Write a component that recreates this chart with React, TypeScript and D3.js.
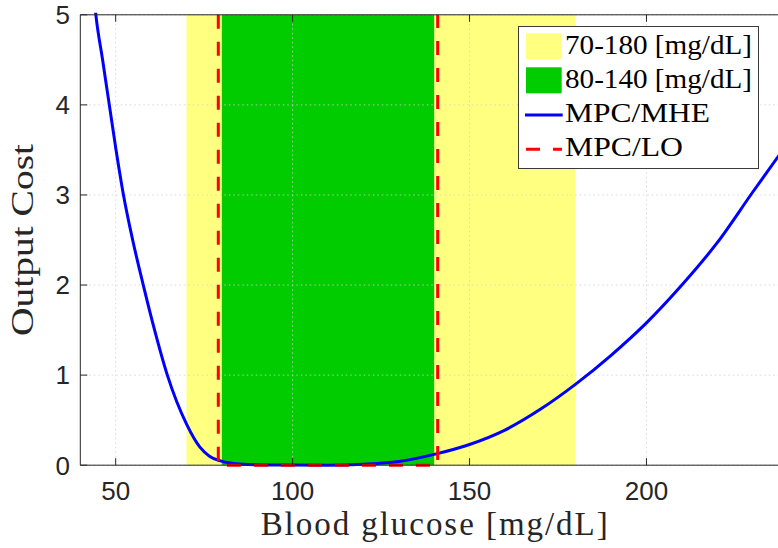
import React, { useEffect, useRef } from "react";
import * as d3 from "d3";

const xTicks = [50, 100, 150, 200];
const yTicks = [0, 1, 2, 3, 4, 5];

const wideBand = [70, 180];
const narrowBand = [80, 140];

const mheGlucose = [43, 44.4, 46.3, 48.2, 50.1, 52.2, 54.8, 57.8, 61.0, 64.6, 70.1, 73.8, 76.5, 79.4, 85, 95, 110, 120, 130, 140, 150, 160, 170, 180, 190, 200, 210, 220, 230, 240];
const mheCost = [5.6, 5.0, 4.5, 4.0, 3.5, 3.0, 2.5, 2.0, 1.5, 1.0, 0.45, 0.2, 0.1, 0.05, 0.013, 0.002, 0.0, 0.01, 0.04, 0.12, 0.23, 0.39, 0.62, 0.9, 1.22, 1.58, 2.0, 2.47, 3.03, 3.58];

const loGlucose = [79, 79, 141, 141];
const loCost = [5, 0, 0, 5];

const legendLabels = ["70-180 [mg/dL]", "80-140 [mg/dL]", "MPC/MHE", "MPC/LO"];

const W = 778;
const H = 548;
const M = { left: 80.3, top: 14.8, right: 788, bottom: 465.2 };

export default function App() {
  const ref = useRef<SVGSVGElement>(null);

  useEffect(() => {
    document.body.style.margin = "0";
    const svg = d3.select(ref.current);
    svg.selectAll("*").remove();

    const x = d3.scaleLinear().domain([40, 240]).range([M.left, M.right]);
    const y = d3.scaleLinear().domain([0, 5]).range([M.bottom, M.top]);

    const defs = svg.append("defs");
    defs.append("clipPath").attr("id", "plotclip").append("rect")
      .attr("x", M.left).attr("y", M.top - 2)
      .attr("width", M.right - M.left).attr("height", M.bottom - M.top + 4);

    const plot = svg.append("g").attr("clip-path", "url(#plotclip)");

    plot.append("rect")
      .attr("x", x(wideBand[0])).attr("y", y(5))
      .attr("width", x(wideBand[1]) - x(wideBand[0])).attr("height", y(0) - y(5))
      .attr("fill", "rgb(255,255,128)");
    plot.append("rect")
      .attr("x", x(narrowBand[0])).attr("y", y(5))
      .attr("width", x(narrowBand[1]) - x(narrowBand[0])).attr("height", y(0) - y(5))
      .attr("fill", "rgb(0,204,0)");

    // grid
    const grid = plot.append("g").attr("stroke", "#d0d0d0").attr("stroke-width", 1)
      .attr("stroke-dasharray", "1.5 3").attr("opacity", 0.8);
    xTicks.forEach((t) => {
      grid.append("line").attr("x1", x(t)).attr("x2", x(t)).attr("y1", M.top).attr("y2", M.bottom);
    });
    yTicks.forEach((t) => {
      grid.append("line").attr("x1", M.left).attr("x2", M.right).attr("y1", y(t)).attr("y2", y(t));
    });

    const mhe = mheGlucose.map((g, i) => [g, mheCost[i]] as [number, number]);
    const line = d3.line<[number, number]>().x((d) => x(d[0])).y((d) => y(d[1])).curve(d3.curveMonotoneX);
    plot.append("path").attr("d", line(mhe)).attr("fill", "none")
      .attr("stroke", "#0000ff").attr("stroke-width", 3);

    const lo = loGlucose.map((g, i) => [g, loCost[i]] as [number, number]);
    const lineLin = d3.line<[number, number]>().x((d) => x(d[0])).y((d) => y(d[1]));
    plot.append("path").attr("d", lineLin(lo)).attr("fill", "none")
      .attr("stroke", "#ff0000").attr("stroke-width", 3).attr("stroke-dasharray", "14 13");

    // axes box
    const axisColor = "#262626";
    svg.append("line").attr("x1", M.left).attr("x2", M.right).attr("y1", M.bottom).attr("y2", M.bottom).attr("stroke", axisColor);
    svg.append("line").attr("x1", M.left).attr("x2", M.right).attr("y1", M.top).attr("y2", M.top).attr("stroke", axisColor);
    svg.append("line").attr("x1", M.left).attr("x2", M.left).attr("y1", M.top).attr("y2", M.bottom).attr("stroke", axisColor);

    const tickLen = 7;
    xTicks.forEach((t) => {
      svg.append("line").attr("x1", x(t)).attr("x2", x(t)).attr("y1", M.bottom).attr("y2", M.bottom - tickLen).attr("stroke", axisColor);
      svg.append("line").attr("x1", x(t)).attr("x2", x(t)).attr("y1", M.top).attr("y2", M.top + tickLen).attr("stroke", axisColor);
      svg.append("text").attr("x", x(t)).attr("y", M.bottom + 35)
        .attr("text-anchor", "middle").attr("font-family", "Liberation Sans, Arial, sans-serif")
        .attr("font-size", 26).attr("fill", axisColor).text(String(t));
    });
    yTicks.forEach((t) => {
      svg.append("line").attr("x1", M.left).attr("x2", M.left + tickLen).attr("y1", y(t)).attr("y2", y(t)).attr("stroke", axisColor);
      svg.append("text").attr("x", 70).attr("y", y(t) + 9.3)
        .attr("text-anchor", "end").attr("font-family", "Liberation Sans, Arial, sans-serif")
        .attr("font-size", 26).attr("fill", axisColor).text(String(t));
    });

    // labels
    svg.append("text").attr("x", (M.left + M.right) / 2).attr("y", 535)
      .attr("text-anchor", "middle").attr("font-family", "Liberation Serif, serif")
      .attr("font-size", 33).attr("fill", axisColor)
      .attr("textLength", 347).attr("lengthAdjust", "spacing")
      .text("Blood glucose [mg/dL]");
    svg.append("text").attr("transform", `translate(33,${(M.top + M.bottom) / 2}) rotate(-90)`)
      .attr("text-anchor", "middle").attr("font-family", "Liberation Serif, serif")
      .attr("font-size", 31).attr("fill", axisColor)
      .attr("textLength", 192).attr("lengthAdjust", "spacingAndGlyphs")
      .text("Output Cost");

    // legend
    const lg = svg.append("g");
    lg.append("rect").attr("x", 518.5).attr("y", 26.5).attr("width", 240).attr("height", 142)
      .attr("fill", "white").attr("stroke", "#3a3a3a").attr("stroke-width", 1);
    lg.append("rect").attr("x", 526).attr("y", 33.3).attr("width", 35.7).attr("height", 26).attr("fill", "rgb(255,255,128)");
    lg.append("rect").attr("x", 526).attr("y", 67.3).attr("width", 35.7).attr("height", 26).attr("fill", "rgb(0,204,0)");
    lg.append("line").attr("x1", 525).attr("x2", 562.7).attr("y1", 115).attr("y2", 115)
      .attr("stroke", "#0000ff").attr("stroke-width", 3);
    lg.append("line").attr("x1", 526).attr("x2", 562).attr("y1", 149.3).attr("y2", 149.3)
      .attr("stroke", "#ff0000").attr("stroke-width", 3).attr("stroke-dasharray", "14 13");
    const baselines = [54, 88, 122.3, 155.7];
    const lengths = [187, 187, 145, 118];
    legendLabels.forEach((lab, i) => {
      lg.append("text").attr("x", 565).attr("y", baselines[i])
        .attr("font-family", "Liberation Serif, serif").attr("font-size", 28).attr("fill", "#000")
        .attr("textLength", lengths[i]).attr("lengthAdjust", "spacingAndGlyphs")
        .text(lab);
    });
  }, []);

  return (
    <svg ref={ref} width={W} height={H} style={{ display: "block", position: "absolute", left: 0, top: 0, background: "white" }} />
  );
}
